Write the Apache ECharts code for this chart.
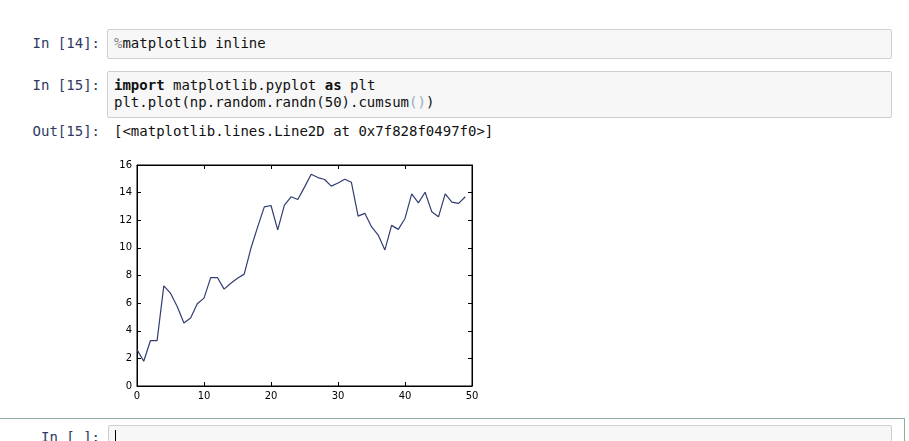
<!DOCTYPE html>
<html>
<head>
<meta charset="utf-8">
<script src="https://cdn.jsdelivr.net/npm/echarts@6/dist/echarts.min.js"></script>
<style>
  html, body { margin: 0; padding: 0; background: #ffffff; width: 909px; height: 441px; overflow: hidden; }
  .mono { font-family: "DejaVu Sans Mono", monospace; font-size: 14px; white-space: pre; position: absolute; }
  .prompt { color: #2e3a63; text-align: right; width: 100px; left: 0; }
  .cell { position: absolute; background: #f7f7f7; border: 1px solid #cfcfcf; border-radius: 2px; box-sizing: border-box; }
  .code { color: #111; left: 114px; }
  .kw { font-weight: bold; color: #111; }
  .magic { color: #888; }
  .paren { color: #9ab; }
  #chart { position: absolute; left: 0; top: 0; width: 909px; height: 441px; }
</style>
</head>
<body>
<div class="cell" style="left:107px; top:29px; width:785px; height:30px;"></div>
<div class="mono prompt" style="top:35px; line-height:17px;">In [14]:</div>
<div class="mono code" style="top:35px; line-height:17px;"><span class="magic">%</span>matplotlib inline</div>

<div class="cell" style="left:107px; top:71px; width:785px; height:47px;"></div>
<div class="mono prompt" style="top:77px; line-height:17px;">In [15]:</div>
<div class="mono code" style="top:77px; line-height:17px;"><span class="kw">import</span> matplotlib.pyplot <span class="kw">as</span> plt
plt.plot(np.random.randn(50).cumsum<span class="paren">()</span>)</div>

<div class="mono prompt" style="top:123px; line-height:17px;">Out[15]:</div>
<div class="mono code" style="top:123px; line-height:17px;">[&lt;matplotlib.lines.Line2D at 0x7f828f0497f0&gt;]</div>

<div style="position:absolute; left:0; top:418px; width:905px; height:30px; border-top:1px solid #8fae9f; border-right:1px solid #8fae9f; box-sizing:border-box;"></div>
<div class="cell" style="left:108px; top:425px; width:784px; height:30px;"></div>
<div class="mono prompt" style="top:429px; line-height:17px;">In [ ]:</div>
<div style="position:absolute; left:115px; top:430px; width:1px; height:14px; background:#000;"></div>

<div id="chart"></div>
<script>
// x positions (sample index)
var xs = [0,1,2,3,4,5,6,7,8,9,10,11,12,13,14,15,16,17,18,19,20,21,22,23,24,25,26,27,28,29,30,31,32,33,34,35,36,37,38,39,40,41,42,43,44,45,46,47,48,49];
// cumulative sum values
var values = [2.63,1.79,3.28,3.28,7.25,6.72,5.76,4.56,4.92,5.95,6.36,7.85,7.85,7.01,7.44,7.8,8.1,9.97,11.5,12.97,13.07,11.3,13.1,13.7,13.5,14.4,15.33,15.09,14.95,14.47,14.7,14.97,14.75,12.3,12.5,11.53,10.93,9.85,11.63,11.34,12.13,13.91,13.26,14.03,12.61,12.25,13.91,13.31,13.22,13.7];
var xTicks = [0,10,20,30,40,50];
var yTicks = [0,2,4,6,8,10,12,14,16];

var pts = xs.map(function (x, i) { return [x, values[i]]; });
var chart = echarts.init(document.getElementById('chart'), null, { renderer: 'canvas' });
function labelStyle(m) { return { show: true, margin: m, color: '#000', fontSize: 10, fontFamily: 'DejaVu Sans' }; }
function tick() { return { show: true, inside: true, length: 4, lineStyle: { color: '#000', width: 1 } }; }
function axis(kind, pos, ticks, iv, lbl) {
  return {
    type: 'value', min: ticks[0], max: ticks[ticks.length - 1], interval: iv, position: pos,
    axisLine: { show: true, onZero: false, lineStyle: { color: '#000', width: 1 } },
    axisTick: tick(), splitLine: { show: false },
    axisLabel: lbl ? lbl : { show: false }
  };
}
chart.setOption({
  backgroundColor: 'transparent',
  animation: false,
  grid: { left: 137, right: 437, top: 165, bottom: 55, show: true, borderColor: '#000', borderWidth: 1, backgroundColor: '#fff' },
  xAxis: [
    axis('x', 'bottom', xTicks, 10, labelStyle(5)),
    axis('x', 'top', xTicks, 10, null)
  ],
  yAxis: [
    axis('y', 'left', yTicks, 2, labelStyle(5)),
    axis('y', 'right', yTicks, 2, null)
  ],
  series: [{
    type: 'line', data: pts, xAxisIndex: 0, yAxisIndex: 0,
    showSymbol: false, symbol: 'none',
    lineStyle: { color: '#313d72', width: 1.2 }
  }]
});
</script>
</body>
</html>
